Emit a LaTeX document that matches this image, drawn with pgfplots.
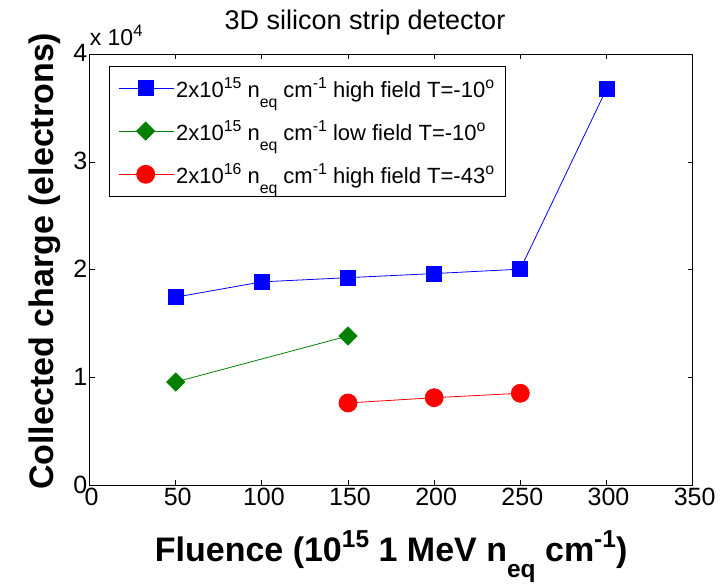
\documentclass[border=0pt]{standalone}
\usepackage{pgfplots}
\pgfplotsset{compat=1.18}
\usepackage{fontspec}
\setmainfont{Liberation Sans}
\newcommand\up[1]{\raisebox{0.75ex}{\scalebox{0.72}{#1}}}
\newcommand\dn[1]{\raisebox{-0.9ex}{\scalebox{0.72}{#1}}}
\definecolor{mblue}{RGB}{0,0,255}
\definecolor{mgreen}{RGB}{0,128,0}
\definecolor{mred}{RGB}{255,0,0}

\begin{document}
\begin{tikzpicture}
    \begin{axis}[
        scale only axis,
        width=603pt, height=431pt,
        at={(0,0)}, anchor=origin,
        xmin=0, xmax=350, ymin=0, ymax=4,
        xtick={0,50,...,350},
        ytick={0,1,2,3,4},
        tick align=inside,
        major tick length=5pt,
        axis line style={line width=1pt},
        every tick/.style={black, line width=0.8pt},
        /pgf/number format/assume math mode=true,
        tick label style={font=\fontsize{25}{25}\selectfont},
        xticklabel style={inner sep=1pt, yshift=-1pt, xshift=2pt},
        yticklabel style={inner sep=2pt, yshift=1pt},
        xlabel={\bfseries\fontsize{34}{34}\selectfont Fluence (10\up{15} 1 MeV n\dn{eq} cm\up{-1})},
        ylabel={\bfseries\fontsize{34}{34}\selectfont Collected charge (electrons)},
        xlabel style={at={(axis description cs:0.5,0)}, anchor=base, yshift=-76pt},
        ylabel style={at={(axis description cs:-0.074,0.52)}, anchor=center},
        legend style={
            at={(axis description cs:0.032,0.973)}, anchor=north west,
            draw=black, line width=0.8pt,
            font=\fontsize{22}{22}\selectfont,
            row sep=18pt, inner xsep=9pt, inner ysep=9pt,
            cells={anchor=west},
        },
        legend image code/.code={
            \draw[mark repeat=2, mark phase=2]
                plot coordinates {(0pt,0pt) (27pt,0pt) (55pt,0pt)};
        },
    ]
        % valeurs en unites de 10^4 electrons
        \addplot[mblue, line width=0.8pt, mark=square*, mark size=7.5pt,
                 mark options={fill=mblue, draw=mblue}] coordinates {
            (50, 1.747) (100, 1.889) (150, 1.928) (200, 1.966) (250, 2.007) (300, 3.678)
        };
        \addlegendentry{2x10\up{15} n\dn{eq} cm\up{-1} high field T=-10\up{o}}

        % losange = carre tourne de 45 degres
        \addplot[mgreen, line width=0.8pt, mark=square*, mark size=6.4pt,
                 mark options={fill=mgreen, draw=mgreen, rotate=45}] coordinates {
            (50, 0.960) (150, 1.387)
        };
        \addlegendentry{2x10\up{15} n\dn{eq} cm\up{-1} low field T=-10\up{o}}

        \addplot[mred, line width=0.8pt, mark=*, mark size=9pt,
                 mark options={fill=mred, draw=mred}] coordinates {
            (150, 0.765) (200, 0.814) (250, 0.855)
        };
        \addlegendentry{2x10\up{16} n\dn{eq} cm\up{-1} high field T=-43\up{o}}
    \end{axis}
    \node[anchor=base] at (275.4pt,456pt) {\fontsize{27}{27}\selectfont 3D silicon strip detector};
    \node[anchor=base west, inner sep=0pt] at (0pt,440pt) {\fontsize{23}{23}\selectfont x 10\up{4}};
    \path (-89.6pt,-95.6pt) rectangle (638.4pt,485.4pt);
\end{tikzpicture}
\end{document}
